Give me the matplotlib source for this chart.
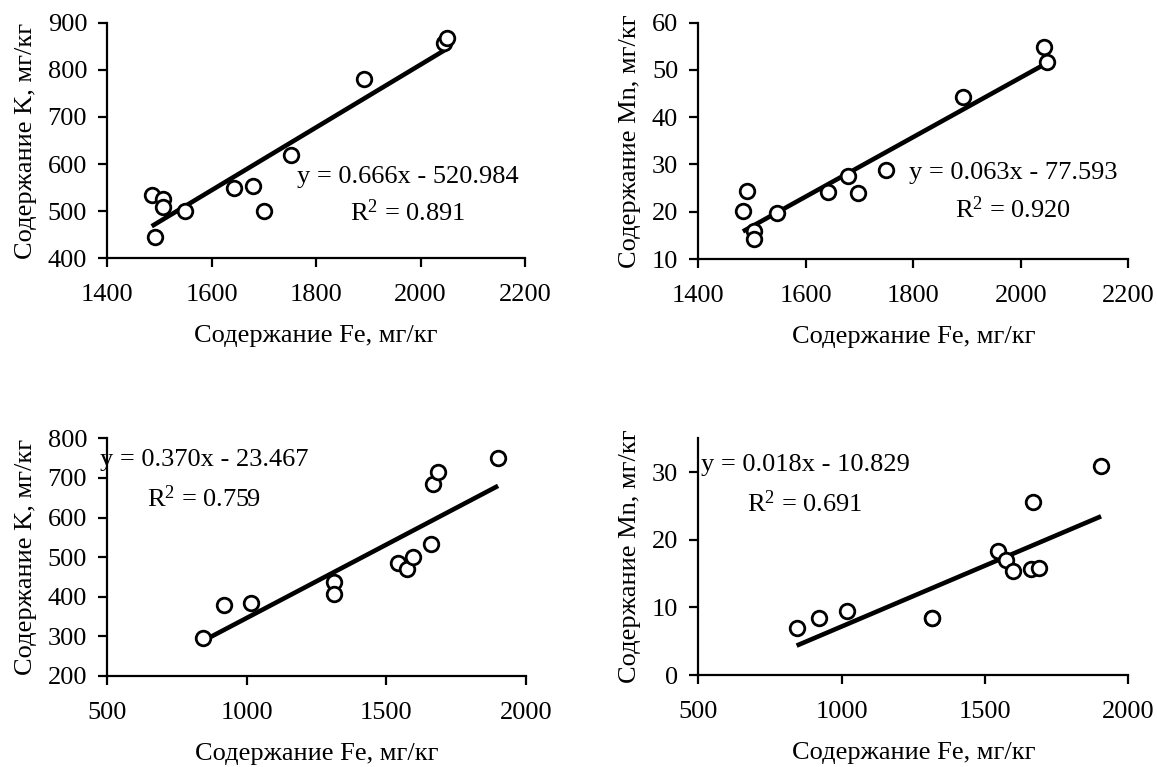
import numpy as np
import matplotlib
matplotlib.use("Agg")
import matplotlib.pyplot as plt

plt.rcParams['font.family'] = ['Liberation Serif', 'DejaVu Serif']
plt.rcParams['mathtext.fontset'] = 'custom'
plt.rcParams['mathtext.rm'] = 'Liberation Serif'
plt.rcParams['mathtext.it'] = 'Liberation Serif:italic'

# Top row data (Fe vs K, Fe vs Mn)
fe_top_k = [1485, 1491, 1506, 1506, 1549, 1643, 1680, 1700, 1751, 1892, 2044, 2050]
k_top = [535, 446, 525, 509, 501, 550, 554, 501, 619, 780, 857, 868]
fe_top_mn = [1483, 1490, 1504, 1504, 1546, 1642, 1678, 1698, 1750, 1892, 2043, 2049]
mn_top = [20.2, 24.4, 16.0, 14.2, 19.8, 24.1, 27.6, 23.9, 28.8, 44.3, 54.8, 51.7]

# Bottom row data
fe_bot_k = [842, 918, 1014, 1313, 1313, 1543, 1573, 1597, 1659, 1668, 1686, 1901]
k_bot = [295, 379, 385, 438, 406, 485, 470, 501, 533, 685, 716, 750]
fe_bot_mn = [843, 921, 1018, 1314, 1314, 1545, 1574, 1599, 1661, 1669, 1690, 1905]
mn_bot = [6.9, 8.5, 9.5, 8.5, 8.5, 18.3, 17.0, 15.4, 15.6, 25.6, 15.8, 30.9]

# Trend line coefficients (slope, intercept, R2)
fit_k_top = (0.666, -520.984, 0.891)
fit_mn_top = (0.063, -77.593, 0.920)
fit_k_bot = (0.370, -23.467, 0.759)
fit_mn_bot = (0.018, -10.829, 0.691)

xticks_top = [1400, 1600, 1800, 2000, 2200]
xticks_bot = [500, 1000, 1500, 2000]
yticks_k_top = [400, 500, 600, 700, 800, 900]
yticks_mn_top = [10, 20, 30, 40, 50, 60]
yticks_k_bot = [200, 300, 400, 500, 600, 700, 800]
yticks_mn_bot = [0, 10, 20, 30]

xlabel = "Содержание Fe, мг/кг"
ylabel_k = "Содержание K, мг/кг"
ylabel_mn = "Содержание Mn, мг/кг"

W, H = 1157, 767
fig = plt.figure(figsize=(W / 100, H / 100), dpi=100)

def px_axes(left, right, top, bottom):
    return fig.add_axes([left / W, (H - bottom) / H, (right - left) / W, (bottom - top) / H])

FS = 19

def panel(ax, x, y, fit, xticks, yticks, ylim, ylabel, txt_pos):
    slope, intercept, r2 = fit
    ax.plot(x, y, 'o', mfc='white', mec='black', ms=10.5, mew=2.0, zorder=3, clip_on=False)
    xs = np.array([min(x), max(x)])
    ax.plot(xs, slope * xs + intercept, '-', color='black', lw=3.3, zorder=2, solid_capstyle='butt')
    ax.set_xlim(xticks[0], xticks[-1])
    ax.set_ylim(*ylim)
    ax.set_xticks(xticks)
    ax.set_yticks(yticks)
    ax.set_xticklabels([str(t) for t in xticks])
    ax.set_yticklabels([str(t) for t in yticks])
    for s in ['top', 'right']:
        ax.spines[s].set_visible(False)
    for s in ['left', 'bottom']:
        ax.spines[s].set_linewidth(1.6)
    ax.tick_params(direction='out', length=6.5, width=1.6, labelsize=FS)
    ax.tick_params(axis='x', pad=12)
    ax.tick_params(axis='y', pad=8)
    ax.set_xlabel(xlabel, fontsize=FS, labelpad=14)
    ax.set_ylabel(ylabel, fontsize=FS, labelpad=8)
    sign = '-' if intercept < 0 else '+'
    tx, ty1, ty2 = txt_pos
    ax.text(tx, ty1, f"y = {slope:.3f}x {sign} {abs(intercept):.3f}", transform=ax.transAxes,
            ha='center', va='center', fontsize=FS, zorder=4)
    ax.text(tx, ty2, f"R$^{{2}}$ = {r2:.3f}", transform=ax.transAxes,
            ha='center', va='center', fontsize=FS, zorder=4)

ax1 = px_axes(107.3, 525, 22.7, 258.3)
panel(ax1, fe_top_k, k_top, fit_k_top, xticks_top, yticks_k_top, (400, 900), ylabel_k, (0.72, 0.346, 0.192))

ax2 = px_axes(698.3, 1128.3, 22.7, 259)
panel(ax2, fe_top_mn, mn_top, fit_mn_top, xticks_top, yticks_mn_top, (10, 60), ylabel_mn, (0.732, 0.363, 0.207))

ax3 = px_axes(107.3, 525.7, 438.3, 676)
panel(ax3, fe_bot_k, k_bot, fit_k_bot, xticks_bot, yticks_k_bot, (200, 800), ylabel_k, (0.232, 0.909, 0.748))

ax4 = px_axes(698.3, 1128.3, 438.3, 675)
panel(ax4, fe_bot_mn, mn_bot, fit_mn_bot, xticks_bot, yticks_mn_bot, (0, 35), ylabel_mn, (0.248, 0.887, 0.725))

fig.savefig("out.png", dpi=100, facecolor='white')
